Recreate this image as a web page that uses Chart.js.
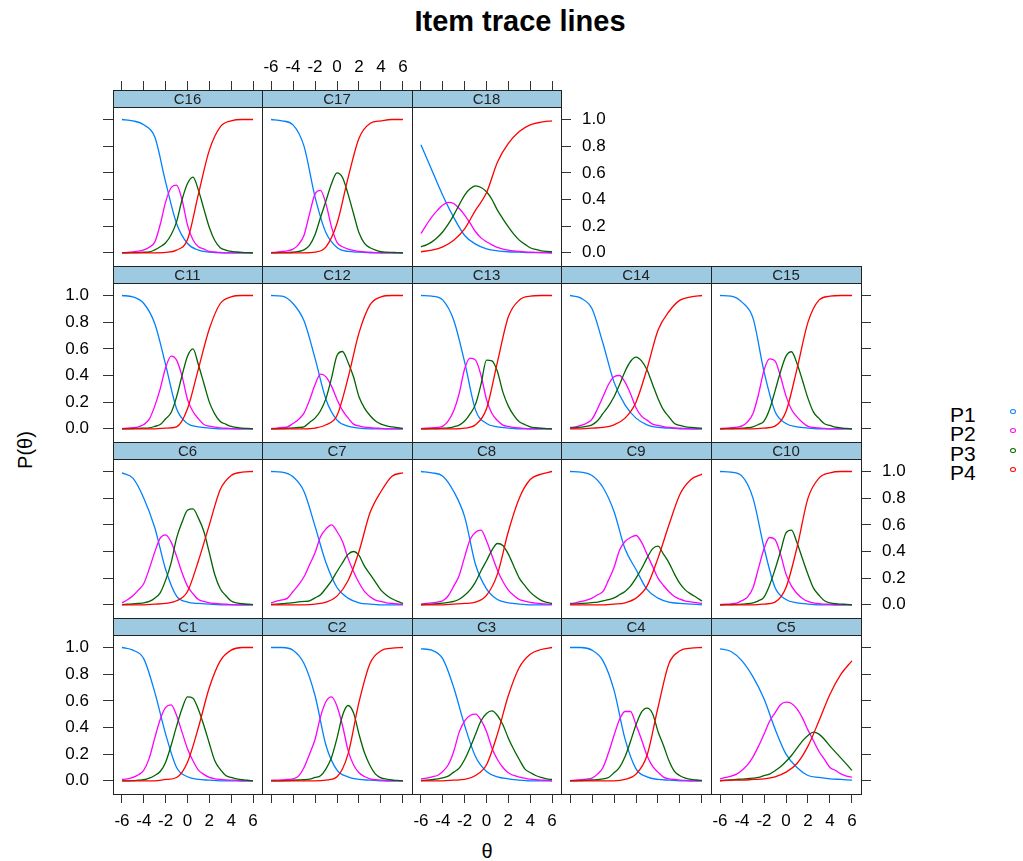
<!DOCTYPE html>
<html>
<head>
<meta charset="utf-8">
<script src="https://cdn.jsdelivr.net/npm/chart.js"></script>
<style>
body { margin: 0; background: #fff; width: 1023px; height: 861px; position: relative; overflow: hidden;
       font-family: "Liberation Sans", Arial, sans-serif; }
canvas { position: absolute; }
.txt { position: absolute; white-space: nowrap; color: #000; }
.mark { position: absolute; width: 4px; height: 3px; border: 1px solid; border-radius: 50%; }
</style>
</head>
<body>
<div class="txt" id="title" style="left:520px; top:7px; font-weight:bold; font-size:29px; line-height:29px; transform:translateX(-50%);">Item trace lines</div>
<div class="txt" id="ylab" style="left:25px; top:450px; font-size:20px; line-height:20px; transform:translate(-50%,-50%) rotate(-90deg);">P(θ)</div>
<div class="txt" id="xlab" style="left:487px; top:851px; font-size:20px; line-height:20px; transform:translate(-50%,-50%);">θ</div>
<div id="legend"></div>

<script>
// trace line values; theta grid for P1/P4 and a finer one for P2/P3
const theta = [-6, -5, -4, -3, -2, -1, 0, 1, 2, 3, 4, 5, 6];
const thetaFine = [-6, -5.5, -5, -4.5, -4, -3.5, -3, -2.5, -2, -1.5, -1, -0.5, 0, 0.5, 1, 1.5, 2, 2.5, 3, 3.5, 4, 4.5, 5, 5.5, 6];

const categories = ['P1', 'P2', 'P3', 'P4'];
const lineColors = ['#0080ff', '#ff00ff', '#006400', '#ff0000'];

const xTicks = [-6, -4, -2, 0, 2, 4, 6];
const xTickLabels = ['-6', '-4', '-2', '0', '2', '4', '6'];
const yTicks = [0, 0.2, 0.4, 0.6, 0.8, 1.0];
const yTickLabels = ['0.0', '0.2', '0.4', '0.6', '0.8', '1.0'];

const C1_P1 = [1.0, 0.98, 0.915, 0.665, 0.35, 0.1, 0.03, 0.01, 0.005, 0, 0, 0, 0];
const C1_P2 = [0.01, 0.015, 0.025, 0.045, 0.08, 0.17, 0.32, 0.46, 0.55, 0.57, 0.49, 0.365, 0.24, 0.15, 0.08, 0.048, 0.025, 0.015, 0.01, 0.007, 0.005, 0.003, 0, 0, 0];
const C1_P3 = [0, 0, 0.002, 0.005, 0.008, 0.02, 0.04, 0.07, 0.14, 0.265, 0.41, 0.54, 0.63, 0.62, 0.535, 0.415, 0.28, 0.15, 0.085, 0.04, 0.025, 0.015, 0.008, 0.004, 0];
const C1_P4 = [0, 0, 0, 0, 0.01, 0.025, 0.14, 0.4, 0.7, 0.9, 0.98, 1.0, 1.0];

const C2_P1 = [1.0, 1.0, 0.98, 0.88, 0.64, 0.265, 0.08, 0.03, 0.01, 0.005, 0, 0, 0];
const C2_P2 = [0.003, 0.005, 0.007, 0.01, 0.015, 0.035, 0.1, 0.2, 0.31, 0.48, 0.595, 0.63, 0.56, 0.415, 0.23, 0.12, 0.06, 0.032, 0.015, 0.008, 0.005, 0, 0, 0, 0];
const C2_P3 = [0, 0, 0, 0.002, 0.004, 0.006, 0.008, 0.012, 0.025, 0.038, 0.09, 0.175, 0.32, 0.49, 0.565, 0.51, 0.35, 0.21, 0.115, 0.05, 0.022, 0.012, 0.006, 0.003, 0];
const C2_P4 = [0, 0, 0, 0, 0, 0.005, 0.03, 0.2, 0.59, 0.88, 0.975, 0.995, 1.0];

const C3_P1 = [0.99, 0.98, 0.915, 0.7, 0.415, 0.18, 0.07, 0.03, 0.015, 0.005, 0, 0, 0];
const C3_P2 = [0.015, 0.02, 0.03, 0.04, 0.07, 0.12, 0.22, 0.365, 0.45, 0.49, 0.5, 0.455, 0.37, 0.245, 0.16, 0.1, 0.06, 0.04, 0.028, 0.02, 0.012, 0.008, 0.005, 0.003, 0];
const C3_P3 = [0.002, 0.004, 0.008, 0.015, 0.022, 0.035, 0.065, 0.095, 0.16, 0.25, 0.35, 0.45, 0.505, 0.525, 0.49, 0.42, 0.32, 0.235, 0.16, 0.09, 0.062, 0.04, 0.025, 0.015, 0.01];
const C3_P4 = [0, 0, 0, 0.005, 0.01, 0.04, 0.12, 0.35, 0.64, 0.85, 0.95, 0.985, 1.0];

const C4_P1 = [1.0, 1.0, 0.98, 0.9, 0.68, 0.315, 0.09, 0.03, 0.01, 0.005, 0, 0, 0];
const C4_P2 = [0.002, 0.004, 0.008, 0.013, 0.02, 0.05, 0.1, 0.21, 0.34, 0.46, 0.52, 0.52, 0.42, 0.31, 0.19, 0.11, 0.065, 0.028, 0.015, 0.01, 0.005, 0.003, 0, 0, 0];
const C4_P3 = [0, 0, 0.002, 0.004, 0.006, 0.008, 0.015, 0.025, 0.06, 0.1, 0.18, 0.295, 0.42, 0.515, 0.545, 0.505, 0.37, 0.265, 0.15, 0.07, 0.038, 0.02, 0.01, 0.006, 0.003];
const C4_P4 = [0, 0, 0, 0, 0, 0.01, 0.05, 0.19, 0.55, 0.88, 0.975, 0.995, 1.0];

const C5_P1 = [0.99, 0.97, 0.9, 0.78, 0.615, 0.39, 0.2, 0.1, 0.04, 0.025, 0.015, 0.01, 0.005];
const C5_P2 = [0.015, 0.025, 0.035, 0.05, 0.08, 0.12, 0.18, 0.26, 0.35, 0.445, 0.51, 0.57, 0.59, 0.58, 0.54, 0.47, 0.38, 0.3, 0.22, 0.16, 0.1, 0.078, 0.052, 0.035, 0.028];
const C5_P3 = [0.002, 0.004, 0.006, 0.01, 0.013, 0.017, 0.02, 0.025, 0.038, 0.05, 0.075, 0.105, 0.145, 0.19, 0.245, 0.3, 0.34, 0.365, 0.35, 0.31, 0.26, 0.215, 0.17, 0.125, 0.078];
const C5_P4 = [0, 0.005, 0.005, 0.01, 0.015, 0.03, 0.065, 0.13, 0.26, 0.45, 0.65, 0.8, 0.9];

const C6_P1 = [0.99, 0.95, 0.8, 0.58, 0.265, 0.065, 0.02, 0.01, 0.005, 0, 0, 0, 0];
const C6_P2 = [0.015, 0.038, 0.068, 0.11, 0.16, 0.27, 0.395, 0.5, 0.525, 0.47, 0.365, 0.24, 0.14, 0.083, 0.04, 0.025, 0.015, 0.01, 0.006, 0.004, 0.002, 0, 0, 0, 0];
const C6_P3 = [0.002, 0.004, 0.006, 0.01, 0.015, 0.025, 0.05, 0.09, 0.185, 0.315, 0.5, 0.62, 0.71, 0.72, 0.65, 0.55, 0.39, 0.225, 0.12, 0.07, 0.028, 0.015, 0.008, 0.004, 0.002];
const C6_P4 = [0, 0, 0, 0.005, 0.01, 0.03, 0.1, 0.33, 0.6, 0.865, 0.97, 0.995, 1.0];

const C7_P1 = [1.0, 0.995, 0.96, 0.85, 0.59, 0.315, 0.13, 0.05, 0.015, 0.005, 0, 0, 0];
const C7_P2 = [0.015, 0.027, 0.037, 0.05, 0.1, 0.15, 0.21, 0.3, 0.39, 0.51, 0.57, 0.6, 0.55, 0.475, 0.35, 0.25, 0.165, 0.1, 0.06, 0.035, 0.025, 0.015, 0.01, 0.006, 0.003];
const C7_P3 = [0.003, 0.005, 0.008, 0.012, 0.016, 0.022, 0.025, 0.03, 0.052, 0.075, 0.125, 0.18, 0.25, 0.315, 0.378, 0.4, 0.37, 0.29, 0.23, 0.17, 0.11, 0.072, 0.045, 0.025, 0.01];
const C7_P4 = [0, 0, 0, 0, 0.005, 0.02, 0.065, 0.18, 0.4, 0.69, 0.85, 0.965, 0.99];

const C8_P1 = [1.0, 0.99, 0.965, 0.85, 0.66, 0.3, 0.12, 0.04, 0.015, 0.005, 0, 0, 0];
const C8_P2 = [0.005, 0.01, 0.015, 0.02, 0.03, 0.068, 0.14, 0.22, 0.36, 0.49, 0.545, 0.56, 0.48, 0.37, 0.26, 0.175, 0.11, 0.07, 0.04, 0.028, 0.018, 0.012, 0.008, 0.005, 0.003];
const C8_P3 = [0.002, 0.003, 0.005, 0.008, 0.012, 0.018, 0.025, 0.042, 0.072, 0.112, 0.172, 0.255, 0.33, 0.41, 0.46, 0.445, 0.38, 0.29, 0.2, 0.145, 0.095, 0.06, 0.033, 0.018, 0.01];
const C8_P4 = [0, 0, 0, 0.005, 0.01, 0.02, 0.07, 0.23, 0.55, 0.8, 0.94, 0.98, 1.0];

const C9_P1 = [1.0, 0.995, 0.97, 0.88, 0.7, 0.42, 0.265, 0.115, 0.05, 0.02, 0.01, 0.005, 0];
const C9_P2 = [0.01, 0.015, 0.025, 0.035, 0.05, 0.075, 0.1, 0.185, 0.28, 0.41, 0.475, 0.505, 0.52, 0.47, 0.38, 0.29, 0.2, 0.145, 0.098, 0.062, 0.042, 0.028, 0.022, 0.016, 0.01];
const C9_P3 = [0.005, 0.007, 0.01, 0.013, 0.017, 0.02, 0.03, 0.038, 0.052, 0.075, 0.1, 0.14, 0.2, 0.27, 0.35, 0.42, 0.44, 0.38, 0.315, 0.23, 0.158, 0.11, 0.08, 0.055, 0.028];
const C9_P4 = [0, 0, 0, 0, 0.005, 0.015, 0.05, 0.14, 0.35, 0.6, 0.83, 0.94, 0.98];

const C10_P1 = [1.0, 0.995, 0.965, 0.8, 0.43, 0.13, 0.04, 0.015, 0.005, 0, 0, 0, 0];
const C10_P2 = [0.002, 0.004, 0.007, 0.012, 0.032, 0.058, 0.128, 0.275, 0.42, 0.505, 0.49, 0.38, 0.23, 0.14, 0.085, 0.048, 0.025, 0.014, 0.008, 0.005, 0.003, 0, 0, 0, 0];
const C10_P3 = [0, 0.001, 0.002, 0.003, 0.005, 0.008, 0.015, 0.03, 0.058, 0.145, 0.265, 0.4, 0.54, 0.56, 0.465, 0.345, 0.228, 0.125, 0.072, 0.03, 0.015, 0.008, 0.005, 0.003, 0];
const C10_P4 = [0, 0, 0, 0, 0.005, 0.02, 0.13, 0.43, 0.8, 0.95, 0.99, 1.0, 1.0];

const C11_P1 = [1.0, 0.99, 0.94, 0.79, 0.48, 0.15, 0.04, 0.015, 0.005, 0, 0, 0, 0];
const C11_P2 = [0.002, 0.004, 0.008, 0.015, 0.032, 0.072, 0.17, 0.3, 0.46, 0.545, 0.515, 0.395, 0.22, 0.13, 0.075, 0.032, 0.02, 0.012, 0.007, 0.004, 0.002, 0, 0, 0, 0];
const C11_P3 = [0, 0, 0.002, 0.003, 0.005, 0.007, 0.018, 0.032, 0.075, 0.122, 0.24, 0.4, 0.545, 0.6, 0.48, 0.34, 0.2, 0.11, 0.055, 0.035, 0.018, 0.01, 0.005, 0.003, 0];
const C11_P4 = [0, 0, 0, 0, 0.005, 0.015, 0.15, 0.45, 0.75, 0.94, 0.99, 1.0, 1.0];

const C12_P1 = [1.0, 0.995, 0.94, 0.81, 0.53, 0.22, 0.065, 0.02, 0.005, 0, 0, 0, 0];
const C12_P2 = [0.002, 0.005, 0.01, 0.015, 0.04, 0.07, 0.118, 0.215, 0.33, 0.41, 0.39, 0.32, 0.22, 0.138, 0.082, 0.035, 0.022, 0.013, 0.008, 0.005, 0.003, 0, 0, 0, 0];
const C12_P3 = [0, 0, 0.002, 0.004, 0.006, 0.01, 0.015, 0.048, 0.08, 0.135, 0.228, 0.38, 0.55, 0.58, 0.5, 0.39, 0.24, 0.155, 0.1, 0.058, 0.035, 0.022, 0.014, 0.008, 0.003];
const C12_P4 = [0, 0, 0, 0, 0.005, 0.03, 0.1, 0.38, 0.72, 0.93, 0.99, 1.0, 1.0];

const C13_P1 = [1.0, 0.995, 0.965, 0.815, 0.5, 0.14, 0.04, 0.015, 0.005, 0, 0, 0, 0];
const C13_P2 = [0.002, 0.004, 0.007, 0.01, 0.02, 0.06, 0.135, 0.265, 0.45, 0.53, 0.515, 0.4, 0.22, 0.115, 0.062, 0.028, 0.018, 0.01, 0.006, 0.003, 0, 0, 0, 0, 0];
const C13_P3 = [0, 0, 0.001, 0.002, 0.004, 0.006, 0.015, 0.028, 0.058, 0.112, 0.185, 0.335, 0.515, 0.51, 0.43, 0.275, 0.17, 0.1, 0.052, 0.032, 0.015, 0.008, 0.004, 0.002, 0];
const C13_P4 = [0, 0, 0, 0, 0.005, 0.03, 0.15, 0.5, 0.84, 0.965, 0.995, 1.0, 1.0];

const C14_P1 = [1.0, 0.98, 0.9, 0.64, 0.35, 0.18, 0.08, 0.03, 0.01, 0.005, 0, 0, 0];
const C14_P2 = [0.01, 0.015, 0.025, 0.042, 0.072, 0.15, 0.24, 0.332, 0.39, 0.4, 0.35, 0.263, 0.158, 0.095, 0.065, 0.035, 0.025, 0.016, 0.01, 0.006, 0.004, 0.002, 0, 0, 0];
const C14_P3 = [0.005, 0.008, 0.012, 0.018, 0.03, 0.06, 0.115, 0.17, 0.24, 0.33, 0.43, 0.505, 0.538, 0.51, 0.443, 0.335, 0.228, 0.142, 0.09, 0.04, 0.025, 0.015, 0.01, 0.006, 0.004];
const C14_P4 = [0, 0, 0.005, 0.01, 0.03, 0.08, 0.2, 0.45, 0.74, 0.88, 0.965, 0.99, 1.0];

const C15_P1 = [1.0, 0.995, 0.95, 0.83, 0.43, 0.13, 0.04, 0.015, 0.005, 0, 0, 0, 0];
const C15_P2 = [0.002, 0.004, 0.008, 0.012, 0.022, 0.052, 0.115, 0.258, 0.44, 0.525, 0.51, 0.392, 0.245, 0.145, 0.09, 0.048, 0.018, 0.01, 0.006, 0.003, 0, 0, 0, 0, 0];
const C15_P3 = [0, 0.001, 0.002, 0.003, 0.005, 0.008, 0.015, 0.032, 0.058, 0.145, 0.283, 0.428, 0.545, 0.578, 0.49, 0.362, 0.228, 0.125, 0.078, 0.038, 0.025, 0.012, 0.006, 0.003, 0];
const C15_P4 = [0, 0, 0, 0, 0.005, 0.02, 0.13, 0.45, 0.8, 0.965, 0.995, 1.0, 1.0];

const C16_P1 = [1.0, 0.99, 0.96, 0.87, 0.53, 0.22, 0.07, 0.02, 0.005, 0, 0, 0, 0];
const C16_P2 = [0, 0.003, 0.007, 0.012, 0.022, 0.042, 0.08, 0.212, 0.382, 0.488, 0.508, 0.398, 0.208, 0.098, 0.045, 0.028, 0.01, 0.006, 0.003, 0, 0, 0, 0, 0, 0];
const C16_P3 = [0, 0, 0.001, 0.002, 0.004, 0.006, 0.022, 0.045, 0.075, 0.135, 0.232, 0.398, 0.52, 0.568, 0.47, 0.328, 0.19, 0.092, 0.038, 0.02, 0.01, 0.006, 0.003, 0.001, 0];
const C16_P4 = [0, 0, 0, 0, 0.003, 0.02, 0.1, 0.44, 0.77, 0.945, 0.99, 1.0, 1.0];

const C17_P1 = [1.0, 0.99, 0.96, 0.8, 0.42, 0.15, 0.04, 0.01, 0.005, 0, 0, 0, 0];
const C17_P2 = [0.002, 0.005, 0.01, 0.015, 0.028, 0.062, 0.132, 0.292, 0.44, 0.468, 0.365, 0.195, 0.078, 0.045, 0.028, 0.018, 0.01, 0.006, 0.004, 0.002, 0, 0, 0, 0, 0];
const C17_P3 = [0, 0, 0.001, 0.002, 0.004, 0.01, 0.022, 0.055, 0.135, 0.265, 0.39, 0.518, 0.6, 0.565, 0.442, 0.295, 0.15, 0.07, 0.038, 0.02, 0.008, 0.005, 0.003, 0.001, 0];
const C17_P4 = [0, 0, 0, 0, 0.005, 0.045, 0.22, 0.56, 0.86, 0.97, 0.99, 1.0, 1.0];

const C18_P1 = [0.81, 0.62, 0.43, 0.265, 0.13, 0.065, 0.03, 0.015, 0.008, 0.005, 0.002, 0.001, 0];
const C18_P2 = [0.145, 0.21, 0.27, 0.318, 0.358, 0.378, 0.37, 0.332, 0.283, 0.222, 0.158, 0.112, 0.083, 0.06, 0.04, 0.028, 0.02, 0.014, 0.01, 0.007, 0.005, 0.003, 0.002, 0.001, 0];
const C18_P3 = [0.045, 0.06, 0.082, 0.115, 0.158, 0.215, 0.283, 0.36, 0.433, 0.48, 0.502, 0.49, 0.458, 0.4, 0.32, 0.255, 0.195, 0.14, 0.095, 0.065, 0.038, 0.025, 0.015, 0.01, 0.008];
const C18_P4 = [0.008, 0.02, 0.045, 0.095, 0.18, 0.32, 0.45, 0.68, 0.82, 0.91, 0.96, 0.98, 0.99];

const traces = {
  C1: [C1_P1, C1_P2, C1_P3, C1_P4], C2: [C2_P1, C2_P2, C2_P3, C2_P4],
  C3: [C3_P1, C3_P2, C3_P3, C3_P4], C4: [C4_P1, C4_P2, C4_P3, C4_P4],
  C5: [C5_P1, C5_P2, C5_P3, C5_P4], C6: [C6_P1, C6_P2, C6_P3, C6_P4],
  C7: [C7_P1, C7_P2, C7_P3, C7_P4], C8: [C8_P1, C8_P2, C8_P3, C8_P4],
  C9: [C9_P1, C9_P2, C9_P3, C9_P4], C10: [C10_P1, C10_P2, C10_P3, C10_P4],
  C11: [C11_P1, C11_P2, C11_P3, C11_P4], C12: [C12_P1, C12_P2, C12_P3, C12_P4],
  C13: [C13_P1, C13_P2, C13_P3, C13_P4], C14: [C14_P1, C14_P2, C14_P3, C14_P4],
  C15: [C15_P1, C15_P2, C15_P3, C15_P4], C16: [C16_P1, C16_P2, C16_P3, C16_P4],
  C17: [C17_P1, C17_P2, C17_P3, C17_P4], C18: [C18_P1, C18_P2, C18_P3, C18_P4]
};

// lattice layout, top row first
const panelRows = [
  ['C16', 'C17', 'C18'],
  ['C11', 'C12', 'C13', 'C14', 'C15'],
  ['C6', 'C7', 'C8', 'C9', 'C10'],
  ['C1', 'C2', 'C3', 'C4', 'C5']
];
const colLeft = [113, 262, 412, 561, 711, 861];
const rowTop = [90, 266, 442, 618];
const panelH = 176;
const stripH = 17;
const M = 60;

Chart.defaults.font.family = '"Liberation Sans", Arial, sans-serif';
Chart.defaults.color = '#000';

// strip on top of each panel + the panel frame
const panelStrip = {
  id: 'panelStrip',
  beforeDatasetsDraw(chart, args, opts) {
    const { ctx, chartArea: a } = chart;
    ctx.save();
    ctx.fillStyle = '#9ecae1';
    ctx.fillRect(a.left, a.top, a.right - a.left, stripH);
    ctx.restore();
  },
  afterDraw(chart, args, opts) {
    const { ctx, chartArea: a } = chart;
    ctx.save();
    ctx.strokeStyle = '#222';
    ctx.lineWidth = 1;
    ctx.strokeRect(a.left + 0.5, a.top + 0.5, a.right - a.left, a.bottom - a.top);
    ctx.beginPath();
    ctx.moveTo(a.left, a.top + stripH + 0.5);
    ctx.lineTo(a.right, a.top + stripH + 0.5);
    ctx.stroke();
    ctx.fillStyle = '#222';
    ctx.font = '15px "Liberation Sans", Arial, sans-serif';
    ctx.textAlign = 'center';
    ctx.textBaseline = 'middle';
    ctx.fillText(opts.label, (a.left + a.right) / 2, a.top + stripH / 2 + 1);
    ctx.restore();
  }
};

// every panel keeps all four axes at a fixed size M so the plot area sits at the same inset;
// "show" decides whether tick marks appear, "labelled" whether the tick text does
function xAxis(position, show, labelled) {
  return {
    type: 'linear', axis: 'x', position: position, display: true,
    min: -6.82, max: 6.82,
    afterBuildTicks: s => { s.ticks = xTicks.map(v => ({ value: v })); },
    afterFit: s => { s.height = M; },
    grid: { display: show, drawOnChartArea: false, drawTicks: true, tickLength: 9, color: '#333' },
    border: { display: false },
    ticks: {
      autoSkip: false, maxRotation: 0, minRotation: 0, padding: position === 'top' ? 3 : 8,
      font: { size: 17 }, color: '#000',
      callback: (v, i) => (show && labelled) ? xTickLabels[i] : ''
    }
  };
}

function yAxis(position, show, labelled) {
  return {
    type: 'linear', axis: 'y', position: position, display: true,
    min: -0.099, max: 1.2213,
    afterBuildTicks: s => { s.ticks = yTicks.map(v => ({ value: v })); },
    afterFit: s => { s.width = M; },
    grid: { display: show, drawOnChartArea: false, drawTicks: true, tickLength: 10, color: '#333' },
    border: { display: false },
    ticks: {
      autoSkip: false, padding: position === 'left' ? 14 : 11,
      font: { size: 17 }, color: '#000',
      callback: (v, i) => (show && labelled) ? yTickLabels[i] : ''
    }
  };
}

panelRows.forEach((names, row) => {
  names.forEach((name, col) => {
    const left = colLeft[col];
    const width = colLeft[col + 1] - left;
    const top = rowTop[row];
    const hasTop = row === 0;
    const hasBottom = row === panelRows.length - 1;
    const hasLeft = col === 0;
    const hasRight = col === names.length - 1;

    const canvas = document.createElement('canvas');
    canvas.width = width + 2 * M;
    canvas.height = panelH + 2 * M;
    canvas.style.left = (left - M) + 'px';
    canvas.style.top = (top - M) + 'px';
    canvas.style.width = canvas.width + 'px';
    canvas.style.height = canvas.height + 'px';
    document.body.appendChild(canvas);

    const series = traces[name];
    const datasets = categories.map((cat, k) => {
      const xs = (k === 1 || k === 2) ? thetaFine : theta;
      return {
        label: cat,
        data: xs.map((t, i) => ({ x: t, y: series[k][i] })),
        borderColor: lineColors[k],
        borderWidth: 1.3,
        pointRadius: 0,
        pointHoverRadius: 0,
        cubicInterpolationMode: 'monotone',
        fill: false,
        order: 3 - k
      };
    });

    new Chart(canvas, {
      type: 'line',
      data: { datasets: datasets },
      plugins: [panelStrip],
      options: {
        responsive: false,
        animation: false,
        devicePixelRatio: 1,
        events: [],
        layout: { autoPadding: false, padding: 0 },
        scales: {
          x: xAxis('bottom', hasBottom, col % 2 === 0),
          xTop: xAxis('top', hasTop, col % 2 === 1),
          y: yAxis('left', hasLeft, row % 2 === 1),
          yRight: yAxis('right', hasRight, row % 2 === 0)
        },
        plugins: {
          legend: { display: false },
          tooltip: { enabled: false },
          panelStrip: { label: name }
        }
      }
    });
  });
});

// key on the right
const legendBase = [421.5, 441, 460.5, 480];
const legend = document.getElementById('legend');
categories.forEach((cat, k) => {
  const t = document.createElement('div');
  t.className = 'txt';
  t.textContent = cat;
  t.style.left = '950px';
  t.style.top = (legendBase[k] - 17.8) + 'px';
  t.style.fontSize = '21px';
  t.style.lineHeight = '21px';
  legend.appendChild(t);
  const m = document.createElement('div');
  m.className = 'mark';
  m.style.borderColor = lineColors[k];
  m.style.left = '1010px';
  m.style.top = (legendBase[k] - 13) + 'px';
  legend.appendChild(m);
});
</script>
</body>
</html>
